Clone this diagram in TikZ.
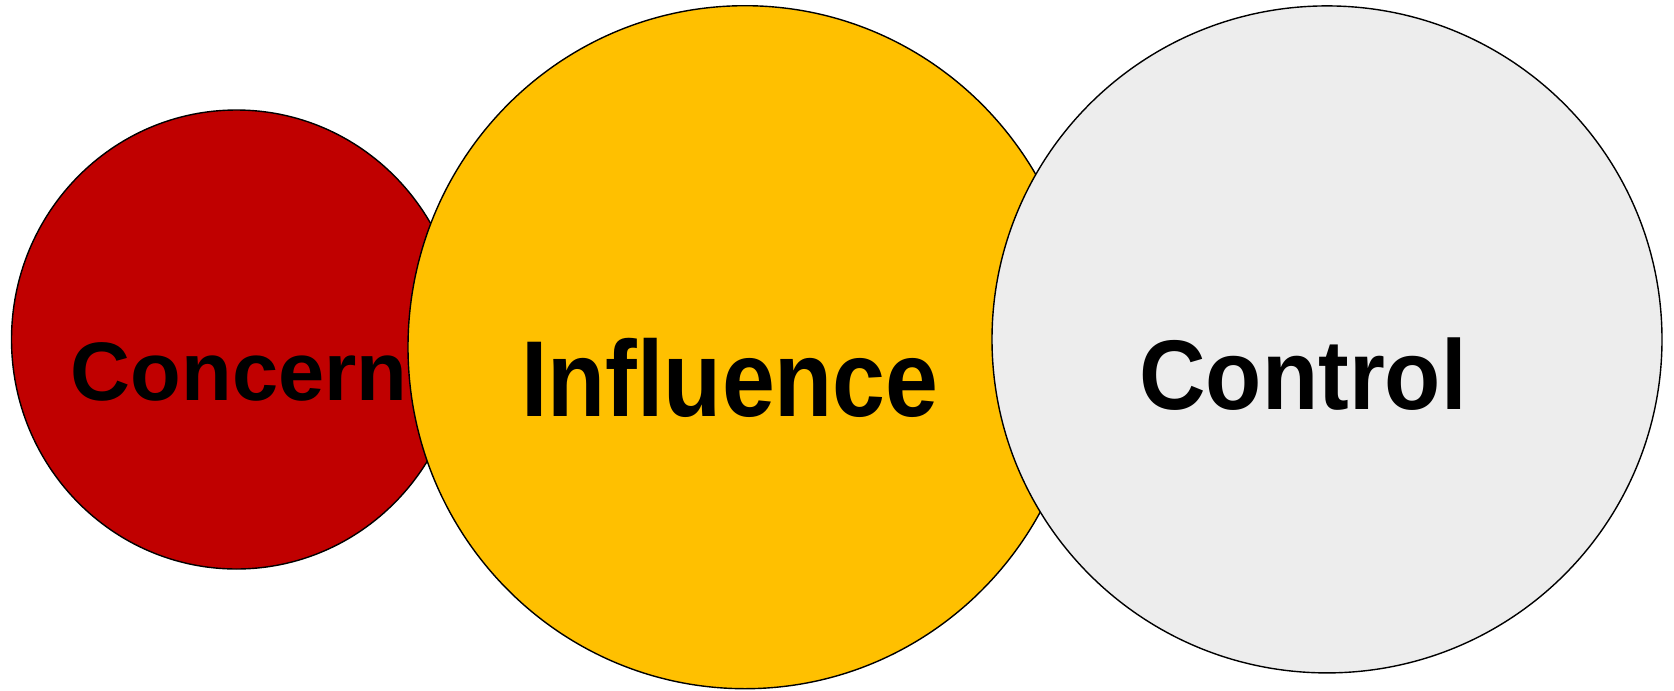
\documentclass[tikz,border=0pt]{standalone}
\usepackage{fontspec}
\setmainfont{Liberation Sans}
\usetikzlibrary{positioning,shapes.geometric}
\definecolor{concernred}{HTML}{C00000}
\definecolor{influenceyellow}{HTML}{FFC000}
\definecolor{controlgrey}{HTML}{EDEDED}
\tikzstyle{zone}=[draw, ellipse, inner sep=0pt, line width=1.4pt]
\tikzstyle{lbl}=[anchor=base, inner sep=0pt, font=\bfseries]

\begin{document}
\begin{tikzpicture}[x=1pt,y=-1pt]
\useasboundingbox (0,0) rectangle (1674,691);
% three overlapping zones, back to front
\node[zone, fill=concernred, minimum width=450pt, minimum height=459pt] at (236.5,339.5) (concern) {};
\node[zone, fill=influenceyellow, minimum width=674pt, minimum height=683pt] at (745,347.2) (influence) {};
\node[zone, fill=controlgrey, minimum width=670pt, minimum height=667pt] at (1327,339.4) (control) {};

% labels
\node[lbl] at (239,400) (concerntxt) {\fontsize{83}{83}\selectfont\scalebox{1.0}[1]{Concern}};
\node[lbl] at (730,416) (influencetxt) {\fontsize{108}{108}\selectfont\scalebox{0.88}[1]{Influence}};
\node[lbl] at (1303,409) (controltxt) {\fontsize{99}{99}\selectfont\scalebox{0.93}[1]{Control}};
\end{tikzpicture}
\end{document}
